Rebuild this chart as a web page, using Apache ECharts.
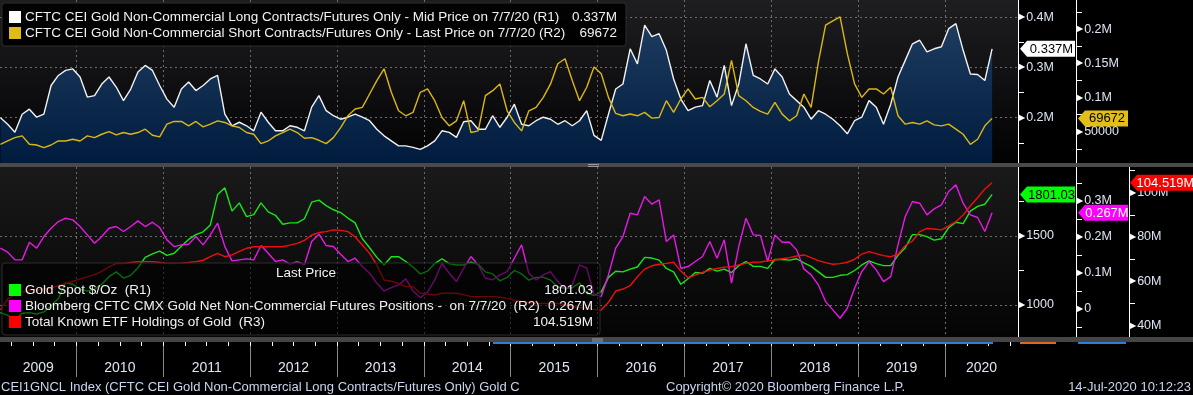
<!DOCTYPE html>
<html><head><meta charset="utf-8">
<script src="https://cdn.jsdelivr.net/npm/echarts@6/dist/echarts.min.js"></script>
<style>html,body{margin:0;padding:0;background:#000;}#c{width:1193px;height:395px;}</style>
</head><body><div id="c"></div>
<script>
const FONT = '"Liberation Sans","Arial",sans-serif';
const LABEL = '#dde6f5';

// ---- data (monthly, Feb 2009 .. Jul 2020) ----
const startYear = 2009, startMonth = 2;
// CFTC non-commercial long contracts (M)
const longContracts = [
 0.200,0.187,0.171,0.207,0.217,0.201,0.207,0.264,0.284,0.294,0.297,
 0.281,0.241,0.244,0.267,0.281,0.261,0.234,0.257,0.291,0.304,0.294,0.264,
 0.237,0.221,0.257,0.271,0.254,0.264,0.277,0.284,0.207,0.184,0.191,0.184,
 0.174,0.211,0.191,0.174,0.174,0.184,0.181,0.174,0.221,0.244,0.214,0.204,
 0.197,0.201,0.207,0.201,0.194,0.177,0.164,0.154,0.144,0.144,0.141,0.137,
 0.144,0.154,0.174,0.171,0.161,0.192,0.194,0.177,0.177,0.204,0.181,0.201,
 0.227,0.187,0.184,0.194,0.201,0.197,0.187,0.194,0.184,0.194,0.214,0.165,
 0.155,0.207,0.257,0.267,0.337,0.307,0.384,0.361,0.367,0.334,0.277,0.237,
 0.214,0.221,0.224,0.274,0.241,0.304,0.224,0.267,0.347,0.284,0.277,0.267,
 0.297,0.281,0.247,0.234,0.221,0.197,0.214,0.207,0.197,0.184,0.168,0.194,
 0.201,0.234,0.221,0.187,0.227,0.281,0.314,0.347,0.354,0.331,0.337,0.341,
 0.377,0.387,0.334,0.287,0.286,0.274,0.337
];
// CFTC non-commercial short contracts (thousands)
const shortContracts = [
 31.8,36.7,41.6,44.1,31.8,30.8,26.9,30.8,36.7,36.7,39.2,
 36.7,44.1,41.6,46.5,50.4,45.5,49.0,46.5,49.0,53.9,45.0,42.6,
 61.2,65.2,65.2,58.8,65.2,57.3,61.2,66.1,63.7,58.8,56.3,49.0,
 46.5,32.8,36.7,44.1,49.0,53.9,49.0,40.6,41.6,37.7,32.8,41.6,
 56.3,73.5,83.3,85.7,105.3,124.9,142.1,107.8,80.8,73.5,78.4,107.8,
 112.7,95.5,71.0,58.8,66.1,95.5,49.0,51.4,102.9,110.2,120.0,80.8,
 63.7,51.4,80.8,85.7,100.4,120.0,149.5,156.8,125.0,95.5,115.1,144.6,
 134.8,100.4,76.9,73.5,76.0,73.5,78.4,70.0,71.0,95.5,78.4,98.0,
 112.7,98.0,100.4,86.7,95.5,105.3,154.4,102.9,95.5,85.7,79.9,75.9,
 93.1,75.9,66.1,73.5,105.3,85.7,151.9,205.9,212.2,218.1,164.2,120.0,
 100.4,112.7,112.7,105.3,115.1,73.5,61.2,63.7,61.2,66.1,60.2,58.8,
 61.2,53.9,46.5,31.8,39.2,58.8,69.672
];
// Gold spot $/oz
const goldSpot = [
 945,925,895,940,945,935,950,995,1045,1160,1150,
 1115,1100,1115,1150,1205,1240,1195,1215,1270,1345,1370,1390,
 1360,1375,1425,1475,1510,1530,1580,1800,1850,1680,1740,1640,
 1655,1740,1675,1650,1585,1595,1595,1625,1745,1760,1720,1690,
 1670,1630,1595,1480,1415,1345,1290,1350,1350,1315,1275,1225,
 1245,1300,1335,1300,1290,1290,1310,1295,1240,1225,1175,1200,
 1250,1225,1180,1200,1200,1180,1130,1120,1125,1160,1085,1070,
 1095,1200,1245,1240,1260,1275,1345,1340,1325,1265,1240,1150,
 1190,1235,1230,1265,1245,1260,1235,1285,1315,1280,1280,1265,
 1330,1330,1325,1335,1305,1280,1240,1200,1200,1215,1220,1250,
 1290,1320,1300,1285,1285,1360,1415,1510,1510,1495,1470,1480,
 1560,1600,1590,1680,1715,1730,1801.03
];
// CMX net non-commercial futures positions (thousands)
const netPositions = [
 168.5,157.4,136.1,136.1,185.2,168.5,200.9,224.1,242.6,251.8,247.2,
 228.7,205.5,182.4,200.9,224.1,228.7,214.8,228.7,244.4,228.7,240.7,225.9,
 191.7,173.1,177.8,179.6,200.9,177.8,205.5,238.0,173.1,133.3,136.1,138.9,
 136.1,175.9,154.6,131.5,136.1,124.1,131.5,122.2,187.0,207.4,175.9,173.1,
 151.8,131.5,140.7,117.6,99.1,71.3,50.0,59.2,66.6,83.3,50.0,31.5,
 46.3,80.5,126.8,99.1,75.9,112.9,145.4,122.2,85.2,80.5,94.4,103.7,
 140.7,177.8,99.1,80.5,94.4,103.7,75.9,55.5,66.6,122.2,112.9,40.2,
 34.2,94.4,168.5,200.9,265.7,261.1,312.0,290.7,302.8,187.0,205.5,112.9,
 117.6,131.5,145.4,187.0,140.7,191.7,71.3,173.1,251.8,205.5,203.7,131.5,
 205.5,185.2,185.2,163.9,111.1,94.4,66.6,20.3,-2.8,-26.0,1.8,57.4,
 103.7,131.5,108.3,75.9,89.8,177.8,256.5,298.1,293.5,261.1,277.8,288.9,
 325.9,344.4,293.5,261.1,253.7,214.8,267
];
// Total known ETF holdings (M oz)
const etfHoldings = [
 47,52,54,55,56,56,56.5,57,58,59,60,
 61,62,63,64.5,66.5,68,68,68.5,68.8,68.9,68.9,68.5,
 68.1,68.0,68.2,68.5,68.9,69.5,71.1,72.6,71.1,71.9,73.5,74.9,
 75.6,75.6,75.6,75.6,75.6,76.3,77.1,78.5,80.9,82.0,82.4,83.2,
 83.0,82.4,80.1,76.4,72.6,67.4,60.6,60.0,59.1,57.6,57.6,54.6,
 54.2,53.8,54.6,54.6,54.6,54.0,53.1,53.1,53.1,53.1,52.8,52.3,
 51.5,50.8,50.5,50.0,50.0,50.0,50.0,49.5,48.5,48.2,47.8,47.2,
 47.0,50.5,55.6,56.5,58.0,62.1,65.5,67.0,67.7,68.1,68.6,64.6,
 61.6,62.8,64.0,65.1,65.8,66.4,66.6,67.4,68.1,68.6,68.7,69.2,
 69.6,70.2,70.7,71.4,71.9,70.7,69.3,68.4,67.7,68.0,68.6,69.9,
 72.3,73.4,72.5,71.6,71.1,72.2,76.1,78.2,82.4,83.9,83.6,83.2,
 85.0,86.9,89.9,94.1,97.7,101.7,104.519
];
const yearTicks = [2010,2011,2012,2013,2014,2015,2016,2017,2018,2019,2020];
const yearLabels = ['2009','2010','2011','2012','2013','2014','2015','2016','2017','2018','2019','2020'];

// ---- layout ----
const X_MIN = 2009.12, X_MAX = 2020.84;
const PLOT_W = 1018;
const months = [];
for (let i = 0; i < longContracts.length; i++) {
  const m = startMonth - 1 + i;
  months.push((startYear + Math.floor(m / 12)) + '-' + String(m % 12 + 1).padStart(2, '0'));
}
const monthPos = s => { const p = s.split('-').map(Number); return p[0] + (p[1] - 0.5) / 12; };
const pairs = arr => arr.map((v, i) => [monthPos(months[i]), v]);
const labelPos = yearLabels.map(y => { const a = Math.max(+y, X_MIN), b = Math.min(+y + 1, X_MAX); return (a + b) / 2; });
const quarterTicks = [];
for (let y = 2009; y <= 2020; y++) for (const q of [0, 0.25, 0.5, 0.75]) { const v = y + q; if (v > X_MIN && v < X_MAX) quarterTicks.push(v); }

const dash = { color: '#6c6c6c', type: [2, 3], width: 1 };
function plotX(gi) {
  return { type: 'value', gridIndex: gi, min: X_MIN, max: X_MAX,
    axisLine: { show: false }, axisTick: { show: false, customValues: yearTicks },
    axisLabel: { show: false }, splitLine: { show: true, lineStyle: dash } };
}
function mainY(gi, offset, min, max, majors, fmt, split) {
  return { type: 'value', gridIndex: gi, position: 'right', offset, min, max,
    axisLine: { show: true, lineStyle: { color: '#ffffff', width: 1 } },
    axisTick: { show: false, customValues: majors },
    axisLabel: { customValues: majors, margin: 1,
      formatter: v => '{a|\u25B6}{b|' + fmt(v) + '}',
      rich: { a: { fontSize: 8, color: '#ffffff', fontFamily: 'DejaVu Sans', padding: [0, 1, 0, 0] },
              b: { fontSize: 12.5, color: LABEL, fontFamily: FONT } } },
    splitLine: { show: split, lineStyle: dash } };
}
function minorY(gi, offset, min, max, ticks) {
  return { type: 'value', gridIndex: gi, position: 'right', offset, min, max,
    axisLine: { show: false }, axisTick: { show: true, customValues: ticks, length: 6, lineStyle: { color: '#ffffff' } },
    axisLabel: { show: false }, splitLine: { show: false } };
}
const fM = v => (+v.toFixed(3)) + 'M';
const fK = v => v >= 100 ? (+(v / 1000).toFixed(3)) + 'M' : String(Math.round(v * 1000));
const fG = v => String(v);

const TOP = { min: 0.11, max: 0.434 }, TOP2 = { min: 4.5, max: 242.6 };
const B1 = { min: 768, max: 2000 }, B2 = { min: -78, max: 394 }, B3 = { min: 34.85, max: 111.6 };

const chart = echarts.init(document.getElementById('c'), null, { renderer: 'canvas', width: 1193, height: 395 });
const line = (name, xi, yi, arr, color, z, extra) => Object.assign({
  name, type: 'line', xAxisIndex: xi, yAxisIndex: yi, data: pairs(arr), showSymbol: false, symbol: 'none',
  lineStyle: { color, width: 1.4 }, z, silent: true }, extra || {});

chart.setOption({
  backgroundColor: '#000',
  animation: false,
  grid: [
    { left: 0, top: 0, width: PLOT_W, height: 163, outerBoundsMode: 'none' },
    { left: 0, top: 167, width: PLOT_W, height: 170, outerBoundsMode: 'none' },
    { left: 0, top: 342, width: PLOT_W, height: 35, outerBoundsMode: 'none' }
  ],
  xAxis: [
    plotX(0), plotX(1),
    { type: 'value', gridIndex: 2, min: X_MIN, max: X_MAX, position: 'bottom',
      axisLine: { show: false }, axisTick: { show: false, customValues: yearTicks },
      axisLabel: { customValues: labelPos, inside: true, margin: 2, color: LABEL, fontSize: 14, fontFamily: FONT,
        formatter: v => yearLabels[Math.floor(v) - 2009] },
      splitLine: { show: true, lineStyle: { color: '#8a8a8a', width: 1 } } },
    { type: 'value', gridIndex: 2, min: X_MIN, max: X_MAX, position: 'top',
      axisLine: { show: false }, axisTick: { show: true, inside: true, length: 4, customValues: quarterTicks, lineStyle: { color: '#ffffff' } },
      axisLabel: { show: false }, splitLine: { show: false } }
  ],
  yAxis: [
    mainY(0, 0, TOP.min, TOP.max, [0.2, 0.3, 0.4], fM, true),
    mainY(0, 58, TOP2.min, TOP2.max, [50, 100, 150, 200], fK, false),
    mainY(1, 0, B1.min, B1.max, [1000, 1500], fG, true),
    mainY(1, 58, B2.min, B2.max, [0, 100, 200, 300], v => v === 0 ? '0' : fK(v), false),
    mainY(1, 111, B3.min, B3.max, [40, 60, 80, 100], v => v + 'M', false),
    minorY(0, 0, TOP.min, TOP.max, [0.15, 0.25, 0.35]),
    minorY(0, 58, TOP2.min, TOP2.max, [25, 75, 125, 175, 225]),
    minorY(1, 0, B1.min, B1.max, [1250, 1750]),
    minorY(1, 58, B2.min, B2.max, [-50, 50, 150, 250, 350]),
    minorY(1, 111, B3.min, B3.max, [50, 70, 90, 110]),
    { type: 'value', gridIndex: 2, min: 0, max: 1, show: false }
  ],
  series: [
    line('long', 0, 0, longContracts, '#f2f2f2', 2, { areaStyle: { origin: 'start', opacity: 1,
      color: new echarts.graphic.LinearGradient(0, 0, 0, 1, [{ offset: 0, color: '#1d3c60' }, { offset: 1, color: '#001b3d' }]) } }),
    line('short', 0, 1, shortContracts, '#dcb714', 3),
    line('gold', 1, 2, goldSpot, '#19e619', 3),
    line('net', 1, 3, netPositions, '#e619e6', 4),
    line('etf', 1, 4, etfHoldings, '#ee1010', 5)
  ]
});

// ---- decorations ----
const LF = '13.5px ' + FONT;
const txt = (text, x, y, opts, z) => ({ type: 'text', z: z || 120, silent: true, style: Object.assign({
  text, x, y, fill: '#f2f2f2', font: LF, textAlign: 'left', align: 'left', textVerticalAlign: 'middle', verticalAlign: 'middle' }, opts || {}) });
const rect = (x, y, w, h, fill, z, extra) => ({ type: 'rect', z, silent: true, shape: Object.assign({ x, y, width: w, height: h }, extra && extra.shape || {}), style: Object.assign({ fill }, extra && extra.style || {}) });
const last = a => a[a.length - 1];

const G = [];
// panel backgrounds
G.push(rect(0, 0, PLOT_W, 163, new echarts.graphic.LinearGradient(0, 0, 0, 1, [{ offset: 0, color: '#1e1e21' }, { offset: 1, color: '#020203' }]), -10));
G.push(rect(0, 167, PLOT_W, 170, new echarts.graphic.LinearGradient(0, 0, 0, 1, [{ offset: 0, color: '#1a1a1a' }, { offset: 1, color: '#040404' }]), -10));
// separators
G.push(rect(0, 163, 1193, 4, '#4a4a4a', 110));
G.push(rect(0, 337, 1193, 5, '#454545', 110));
G.push(rect(588, 164, 11, 1, '#9a9a9a', 111)); G.push(rect(588, 166, 11, 1, '#9a9a9a', 111));
G.push(rect(592, 338.5, 11, 1, '#9a9a9a', 111)); G.push(rect(592, 340.5, 11, 1, '#9a9a9a', 111));
G.push(rect(493, 342, 500, 2, '#2d7fd6', 111));
G.push(rect(1020, 342, 36, 2, '#d96a1e', 111));
G.push(rect(1078, 342, 48, 2, '#2d7fd6', 111));

// top legend
G.push(rect(2, 3, 624, 43, 'rgba(0,0,0,0.92)', 115, { shape: { r: 3 }, style: { stroke: '#2c2c2c', lineWidth: 1 } }));
G.push(rect(9, 11, 12, 12, '#ffffff', 116));
G.push(rect(9, 27, 12, 12, '#e0bd14', 116));
G.push(txt('CFTC CEI Gold Non-Commercial Long Contracts/Futures Only - Mid Price on 7/7/20 (R1)', 25, 17.5));
G.push(txt('CFTC CEI Gold Non-Commercial Short Contracts/Futures Only - Last Price on 7/7/20 (R2)', 25, 33.5));
G.push(txt(fM(last(longContracts)), 617, 17.5, { textAlign: 'right', align: 'right' }));
G.push(txt(String(Math.round(last(shortContracts) * 1000)), 617, 33.5, { textAlign: 'right', align: 'right' }));

// bottom legend
G.push(rect(2, 263, 598, 72, 'rgba(0,0,0,0.55)', 115, { shape: { r: 3 }, style: { stroke: '#2c2c2c', lineWidth: 1 } }));
G.push(txt('Last Price', 306, 273, { textAlign: 'center', align: 'center' }));
G.push(rect(9, 284, 12, 12, '#00ff00', 116));
G.push(rect(9, 300, 12, 12, '#ff00ff', 116));
G.push(rect(9, 316, 12, 12, '#ff0000', 116));
G.push(txt('Gold Spot $/Oz  (R1)', 25, 290));
G.push(txt('Bloomberg CFTC CMX Gold Net Non-Commercial Futures Positions -  on 7/7/20  (R2)', 25, 306));
G.push(txt('Total Known ETF Holdings of Gold  (R3)', 25, 322));
G.push(txt(String(last(goldSpot)), 593, 290, { textAlign: 'right', align: 'right' }));
G.push(txt(fK(last(netPositions)), 593, 306, { textAlign: 'right', align: 'right' }));
G.push(txt(last(etfHoldings) + 'M', 593, 322, { textAlign: 'right', align: 'right' }));

// footer
const FOOT = '#c9d6ee';
const FF = '13px ' + FONT;
G.push(txt('CEI1GNCL Index (CFTC CEI Gold Non-Commercial Long Contracts/Futures Only) Gold C', 1, 387, { fill: FOOT, font: FF }));
G.push(txt('Copyright\u00A9 2020 Bloomberg Finance L.P.', 666, 387, { fill: FOOT, font: FF }));
G.push(txt('14-Jul-2020 10:12:23', 1191, 387, { fill: FOOT, font: FF, textAlign: 'right', align: 'right' }));

// value tags on the axes
function tag(x, axisIdx, val, w, text, bg, fg) {
  const y = chart.convertToPixel({ yAxisIndex: axisIdx }, val);
  const h = 8;
  G.push({ type: 'polygon', z: 130, silent: true, shape: { points: [[x, y], [x + 7, y - h], [x + w, y - h], [x + w, y + h], [x + 7, y + h]] }, style: { fill: bg } });
  G.push(txt(text, x + 4 + w / 2, y + 0.5, { fill: fg, textAlign: 'center', align: 'center', font: '13px ' + FONT }, 131));
}
tag(1020, 0, last(longContracts), 55, fM(last(longContracts)), '#ffffff', '#000000');
tag(1078, 1, last(shortContracts), 50, String(Math.round(last(shortContracts) * 1000)), '#e3bf16', '#000000');
tag(1020, 2, last(goldSpot), 55, String(last(goldSpot)), '#00ff00', '#000000');
tag(1078, 3, last(netPositions), 50, fK(last(netPositions)), '#ff00ff', '#ffffff');
tag(1130, 4, last(etfHoldings), 63, last(etfHoldings) + 'M', '#ff0000', '#ffffff');

chart.setOption({ graphic: { elements: G } });
</script></body></html>
